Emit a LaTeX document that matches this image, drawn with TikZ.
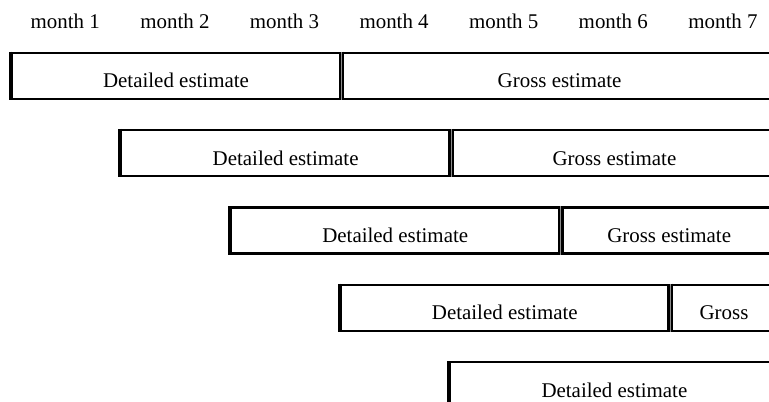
\documentclass[tikz,border=0pt]{standalone}
\usepackage{fontspec}
\setmainfont{Liberation Serif}
\begin{document}
\begin{tikzpicture}[x=1bp,y=-1bp,
  txt/.style={font=\fontsize{21}{25}\selectfont},
  box/.style={txt, draw, line width=2.2bp, rectangle, inner sep=0pt,
    minimum height=46bp, text height=24bp, text depth=0pt, anchor=north west},
  lbl/.style={txt, anchor=base},
  leftedge/.style={line width=3.4bp},
  divider/.style={double=black!45, double distance=0.9bp, line width=2.5bp}]
\useasboundingbox (0,0) rectangle (769,401);
\clip (0,0) rectangle (769,401);
% month labels
\foreach \k in {1,...,7} {
  \pgfmathsetmacro\mx{10.5+109.6*(\k-0.5)}
  \node[lbl] (m\k) at (\mx,28.5) {month \k};
}
% row 1
\node[box, minimum width=328.8bp] (d0) at (10.5,51.5) {Detailed estimate};
\node[box, minimum width=438.4bp] (g0) at (339.3,51.5) {Gross estimate};
% row 2
\node[box, minimum width=328.8bp] (d1) at (120.1,128.9) {Detailed estimate};
\node[box, minimum width=328.8bp] (g1) at (448.9,128.9) {Gross estimate};
% row 3
\node[box, minimum width=328.8bp] (d2) at (229.7,206.3) {Detailed estimate};
\node[box, minimum width=219.2bp] (g2) at (558.5,206.3) {Gross estimate};
% row 4
\node[box, minimum width=328.8bp] (d3) at (339.3,283.7) {Detailed estimate};
\node[box, minimum width=109.6bp] (g3) at (668.1,283.7) {Gross};
% row 5
\node[box, minimum width=328.8bp] (d4) at (448.9,361.1) {Detailed estimate};
% thick left edges and double dividers
\foreach \n in {d0,d1,d2,d3,d4} {
  \draw[leftedge] (\n.north west) -- (\n.south west);
}
\foreach \n in {d0,d1,d2,d3} {
  \draw[divider] (\n.north east) -- (\n.south east);
}
\end{tikzpicture}
\end{document}
